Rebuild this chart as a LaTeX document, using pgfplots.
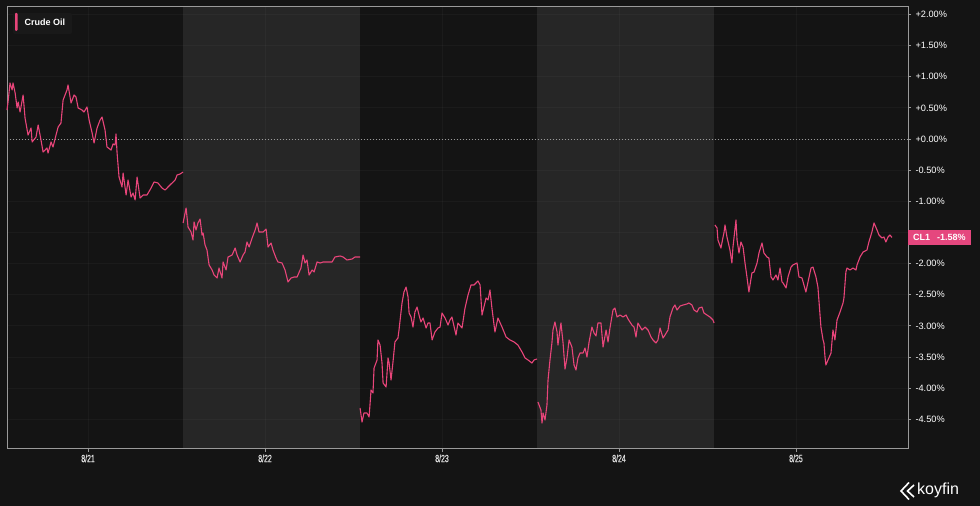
\documentclass[border=0pt]{standalone}
\usepackage{fontspec}
\setmainfont{Liberation Sans}
\newfontfamily\condfont{Liberation Sans}[FakeStretch=0.66, FakeBold=0.6]
\usepackage{pgfplots}
\pgfplotsset{compat=1.18}
\definecolor{bgcol}{HTML}{141414}
\definecolor{bandcol}{HTML}{262626}
\definecolor{axgray}{HTML}{9A9A9A}
\definecolor{linepink}{HTML}{E8457A}
\definecolor{boxpink}{HTML}{E5477E}
\definecolor{legbg}{HTML}{191919}
\pgfplotsset{
  layers/mylayers/.define layer set={
    bglayer,axis background,axis grid,axis ticks,axis lines,axis tick labels,
    pre main,main,axis descriptions,axis foreground
  }{},
}
\begin{document}
\begin{tikzpicture}[x=1pt,y=1pt]
\begin{axis}[
  set layers=mylayers,
  at={(7pt,57pt)}, anchor=south west,
  scale only axis, width=901pt, height=442pt,
  xmin=20.542, xmax=25.633, ymin=-4.976, ymax=2.119,
  clip=false,
  axis line style={draw=axgray, line width=1pt},
  xtick pos=bottom, ytick pos=right, yticklabel pos=right,
  tick align=outside, major tick length=3pt,
  tick style={draw=axgray, line width=0.8pt},
  xtick={21,22,23,24,25},
  xticklabels={8/21,8/22,8/23,8/24,8/25},
  ytick={-4.5,-4,-3.5,-3,-2.5,-2,-1.5,-1,-0.5,0,0.5,1,1.5,2},
  yticklabels={-4.50\%,-4.00\%,-3.50\%,-3.00\%,-2.50\%,-2.00\%,,-1.00\%,-0.50\%,+0.00\%,+0.50\%,+1.00\%,+1.50\%,+2.00\%},
  x tick label style={font=\condfont\fontsize{10.5}{11}\selectfont, text={rgb,255:red,225;green,225;blue,225}, yshift=1pt},
  y tick label style={font=\fontsize{9.2}{10}\selectfont, text=white, xshift=1pt},
  grid=major,
  major grid style={draw=white, opacity=0.03, line width=0.8pt},
]
\begin{pgfonlayer}{bglayer}
\fill[bgcol] (rel axis cs:0,0) ++(-7pt,-57pt) rectangle ++(980pt,506pt);
\end{pgfonlayer}
\begin{pgfonlayer}{axis background}
\fill[bandcol] (axis cs:21.537,-4.976) rectangle (axis cs:22.537,2.119);
\fill[bandcol] (axis cs:23.537,-4.976) rectangle (axis cs:24.537,2.119);
\end{pgfonlayer}
\draw[axgray, line width=0.8pt, dash pattern=on 1pt off 2pt] (axis cs:20.542,0) -- (axis cs:25.633,0);
% session 1 (8/21)
\addplot[linepink, line width=1.1pt, line join=round] coordinates {
(20.542,0.465)(20.548,0.594)(20.559,0.899)(20.571,0.787)(20.576,0.899)(20.588,0.738)
(20.599,0.498)(20.605,0.594)(20.616,0.433)(20.633,0.706)(20.644,0.337)(20.661,0.064)
(20.678,0.177)(20.684,-0.048)(20.706,0.032)(20.718,0.225)(20.734,-0.016)(20.746,-0.209)
(20.768,-0.144)(20.774,-0.225)(20.791,-0.048)(20.802,-0.128)(20.819,0.064)(20.831,0.193)
(20.847,0.257)(20.859,0.626)(20.881,0.787)(20.887,0.867)(20.904,0.578)(20.921,0.706)
(20.932,0.674)(20.944,0.498)(20.966,0.465)(20.977,0.433)(20.994,0.514)(21.006,0.305)
(21.023,0.096)(21.034,-0.064)(21.051,0.177)(21.068,0.305)(21.079,0.353)(21.096,0.144)
(21.107,-0.128)(21.130,-0.177)(21.141,-0.080)(21.153,-0.096)(21.158,0.080)(21.164,-0.225)
(21.175,-0.610)(21.192,-0.770)(21.198,-0.546)(21.215,-0.899)(21.226,-0.658)(21.243,-0.931)
(21.254,-0.867)(21.266,-0.979)(21.277,-0.610)(21.294,-0.947)(21.311,-0.899)(21.333,-0.899)
(21.356,-0.787)(21.373,-0.690)(21.395,-0.706)(21.418,-0.787)(21.435,-0.819)(21.463,-0.738)
(21.492,-0.658)(21.503,-0.578)(21.520,-0.562)(21.537,-0.530)
};
% session 2 (8/22)
\addplot[linepink, line width=1.1pt, line join=round] coordinates {
(21.537,-1.348)(21.554,-1.108)(21.565,-1.413)(21.582,-1.493)(21.593,-1.621)(21.599,-1.332)
(21.610,-1.461)(21.621,-1.348)(21.633,-1.284)(21.644,-1.541)(21.650,-1.509)(21.661,-1.701)
(21.672,-1.782)(21.684,-2.022)(21.701,-2.103)(21.712,-2.183)(21.729,-2.231)(21.740,-2.071)
(21.757,-2.231)(21.763,-1.974)(21.780,-2.103)(21.791,-1.894)(21.814,-1.862)(21.831,-1.750)
(21.842,-1.862)(21.859,-1.974)(21.876,-1.862)(21.887,-1.814)(21.898,-1.653)(21.910,-1.734)
(21.927,-1.589)(21.944,-1.461)(21.955,-1.348)(21.966,-1.493)(21.989,-1.493)(22.006,-1.445)
(22.017,-1.734)(22.034,-1.669)(22.045,-1.782)(22.062,-1.910)(22.073,-1.974)(22.096,-1.990)
(22.113,-2.103)(22.130,-2.295)(22.147,-2.231)(22.164,-2.215)(22.181,-2.215)(22.203,-2.071)
(22.215,-1.862)(22.226,-1.990)(22.237,-1.942)(22.249,-2.183)(22.266,-2.103)(22.277,-2.135)
(22.294,-1.974)(22.311,-1.990)(22.328,-1.974)(22.350,-1.974)(22.379,-1.974)(22.395,-1.894)
(22.424,-1.878)(22.441,-1.894)(22.463,-1.942)(22.492,-1.926)(22.508,-1.894)(22.537,-1.894)
};
% session 3 (8/23)
\addplot[linepink, line width=1.1pt, line join=round] coordinates {
(22.537,-4.318)(22.548,-4.543)(22.559,-4.398)(22.576,-4.398)(22.588,-4.462)(22.599,-4.029)
(22.610,-4.077)(22.616,-3.676)(22.633,-3.547)(22.638,-3.226)(22.650,-3.307)(22.661,-3.596)
(22.667,-3.917)(22.684,-3.981)(22.695,-3.515)(22.701,-3.596)(22.712,-3.868)(22.723,-3.579)
(22.734,-3.258)(22.751,-3.194)(22.757,-3.066)(22.774,-2.632)(22.785,-2.456)(22.797,-2.376)
(22.808,-2.536)(22.814,-2.793)(22.825,-2.857)(22.836,-3.018)(22.847,-2.777)(22.859,-2.697)
(22.870,-2.825)(22.881,-2.937)(22.893,-2.873)(22.910,-3.034)(22.921,-2.953)(22.932,-2.953)
(22.944,-3.226)(22.960,-3.098)(22.977,-3.034)(22.989,-3.018)(23.000,-2.793)(23.017,-2.873)
(23.034,-2.986)(23.045,-2.905)(23.056,-2.857)(23.079,-3.146)(23.090,-2.953)(23.113,-3.034)
(23.130,-2.713)(23.147,-2.504)(23.164,-2.343)(23.181,-2.343)(23.203,-2.279)(23.215,-2.343)
(23.226,-2.825)(23.249,-2.552)(23.260,-2.584)(23.271,-2.424)(23.282,-2.713)(23.299,-3.098)
(23.316,-2.873)(23.339,-3.018)(23.362,-3.178)(23.384,-3.226)(23.407,-3.258)(23.429,-3.307)
(23.452,-3.419)(23.469,-3.515)(23.486,-3.547)(23.508,-3.596)(23.520,-3.547)(23.537,-3.531)
};
% session 4 (8/24)
\addplot[linepink, line width=1.1pt, line join=round] coordinates {
(23.542,-4.221)(23.559,-4.350)(23.565,-4.559)(23.571,-4.398)(23.582,-4.510)(23.593,-4.270)
(23.599,-3.868)(23.610,-3.547)(23.621,-3.274)(23.627,-3.066)(23.638,-2.937)(23.650,-3.098)
(23.655,-3.307)(23.672,-2.953)(23.684,-3.274)(23.695,-3.692)(23.706,-3.515)(23.718,-3.226)
(23.734,-3.339)(23.746,-3.628)(23.757,-3.708)(23.768,-3.515)(23.780,-3.435)(23.797,-3.435)
(23.808,-3.355)(23.819,-3.499)(23.831,-3.258)(23.847,-3.018)(23.859,-3.114)(23.870,-3.162)
(23.881,-2.953)(23.898,-2.953)(23.910,-3.339)(23.927,-3.066)(23.938,-3.258)(23.949,-3.034)
(23.966,-2.745)(23.977,-2.713)(23.989,-2.857)(24.006,-2.825)(24.023,-2.857)(24.040,-2.825)
(24.051,-2.889)(24.073,-2.986)(24.085,-3.018)(24.096,-3.178)(24.107,-2.953)(24.130,-3.066)
(24.147,-3.018)(24.164,-3.066)(24.181,-3.178)(24.192,-3.226)(24.209,-3.274)(24.220,-3.226)
(24.232,-3.034)(24.249,-3.194)(24.260,-3.146)(24.277,-3.066)(24.288,-2.857)(24.305,-2.713)
(24.316,-2.665)(24.328,-2.745)(24.345,-2.681)(24.362,-2.665)(24.384,-2.648)(24.395,-2.632)
(24.412,-2.665)(24.424,-2.745)(24.441,-2.777)(24.452,-2.713)(24.469,-2.697)(24.480,-2.793)
(24.497,-2.825)(24.514,-2.857)(24.531,-2.905)(24.537,-2.953)
};
% session 5 (8/25)
\addplot[linepink, line width=1.1pt, line join=round] coordinates {
(24.542,-1.380)(24.554,-1.429)(24.559,-1.621)(24.576,-1.750)(24.588,-1.573)(24.593,-1.509)
(24.599,-1.380)(24.610,-1.573)(24.627,-1.782)(24.638,-1.990)(24.644,-1.734)(24.661,-1.300)
(24.667,-1.621)(24.678,-1.830)(24.689,-1.653)(24.701,-1.734)(24.712,-1.990)(24.723,-2.215)
(24.734,-2.456)(24.751,-2.151)(24.763,-2.135)(24.780,-1.990)(24.791,-1.830)(24.808,-1.669)
(24.819,-1.830)(24.836,-1.894)(24.847,-1.910)(24.859,-2.215)(24.870,-2.263)(24.887,-2.183)
(24.898,-2.263)(24.910,-2.071)(24.921,-2.295)(24.927,-2.311)(24.944,-2.392)(24.955,-2.215)
(24.972,-2.055)(24.983,-2.022)(25.006,-1.990)(25.017,-2.215)(25.034,-2.231)(25.045,-2.343)
(25.056,-2.456)(25.068,-2.295)(25.085,-2.071)(25.096,-2.055)(25.113,-2.215)(25.124,-2.376)
(25.141,-3.018)(25.153,-3.226)(25.158,-3.274)(25.164,-3.499)(25.169,-3.628)(25.181,-3.547)
(25.198,-3.435)(25.209,-3.066)(25.220,-3.226)(25.232,-2.905)(25.249,-2.777)(25.266,-2.632)
(25.271,-2.552)(25.282,-2.135)(25.288,-2.071)(25.305,-2.103)(25.322,-2.071)(25.339,-2.103)
(25.345,-2.022)(25.362,-1.894)(25.379,-1.814)(25.401,-1.782)(25.412,-1.653)(25.429,-1.493)
(25.441,-1.348)(25.458,-1.461)(25.469,-1.541)(25.486,-1.589)(25.497,-1.573)(25.508,-1.653)
(25.520,-1.573)(25.531,-1.541)(25.542,-1.580)
};
\node[fill=boxpink, anchor=west, minimum height=15pt, inner xsep=5pt, inner ysep=0pt,
      text=white, font=\bfseries\fontsize{9}{10}\selectfont]
  at (axis cs:25.633,-1.58) {CL1\hspace{7pt}-1.58\%};
% legend
\fill[legbg, rounded corners=2pt] (rel axis cs:0,1) ++(6pt,-6pt) rectangle ++(59pt,-21pt);
\fill[linepink, rounded corners=1pt] (rel axis cs:0,1) ++(8pt,-6pt) rectangle ++(2.5pt,-18pt);
\node[anchor=west, text=white, font=\bfseries\fontsize{9}{10}\selectfont, inner sep=0pt]
  at ([shift={(17.5pt,-15pt)}]rel axis cs:0,1) {Crude Oil};
% koyfin logo
\draw[white, line width=1.6pt, line join=miter] ([shift={(902pt,-33.5pt)}]rel axis cs:0,0) -- ++(-8pt,-8.5pt) -- ++(8pt,-8.5pt);
\draw[white, line width=1.6pt, line join=miter] ([shift={(907pt,-36pt)}]rel axis cs:0,0) -- ++(-6.5pt,-6pt) -- ++(6.5pt,-6pt);
\node[anchor=west, text=white, font=\fontsize{16}{18}\selectfont, inner sep=0pt]
  at ([shift={(910pt,-41.5pt)}]rel axis cs:0,0) {koyfin};
\end{axis}
\end{tikzpicture}
\end{document}
